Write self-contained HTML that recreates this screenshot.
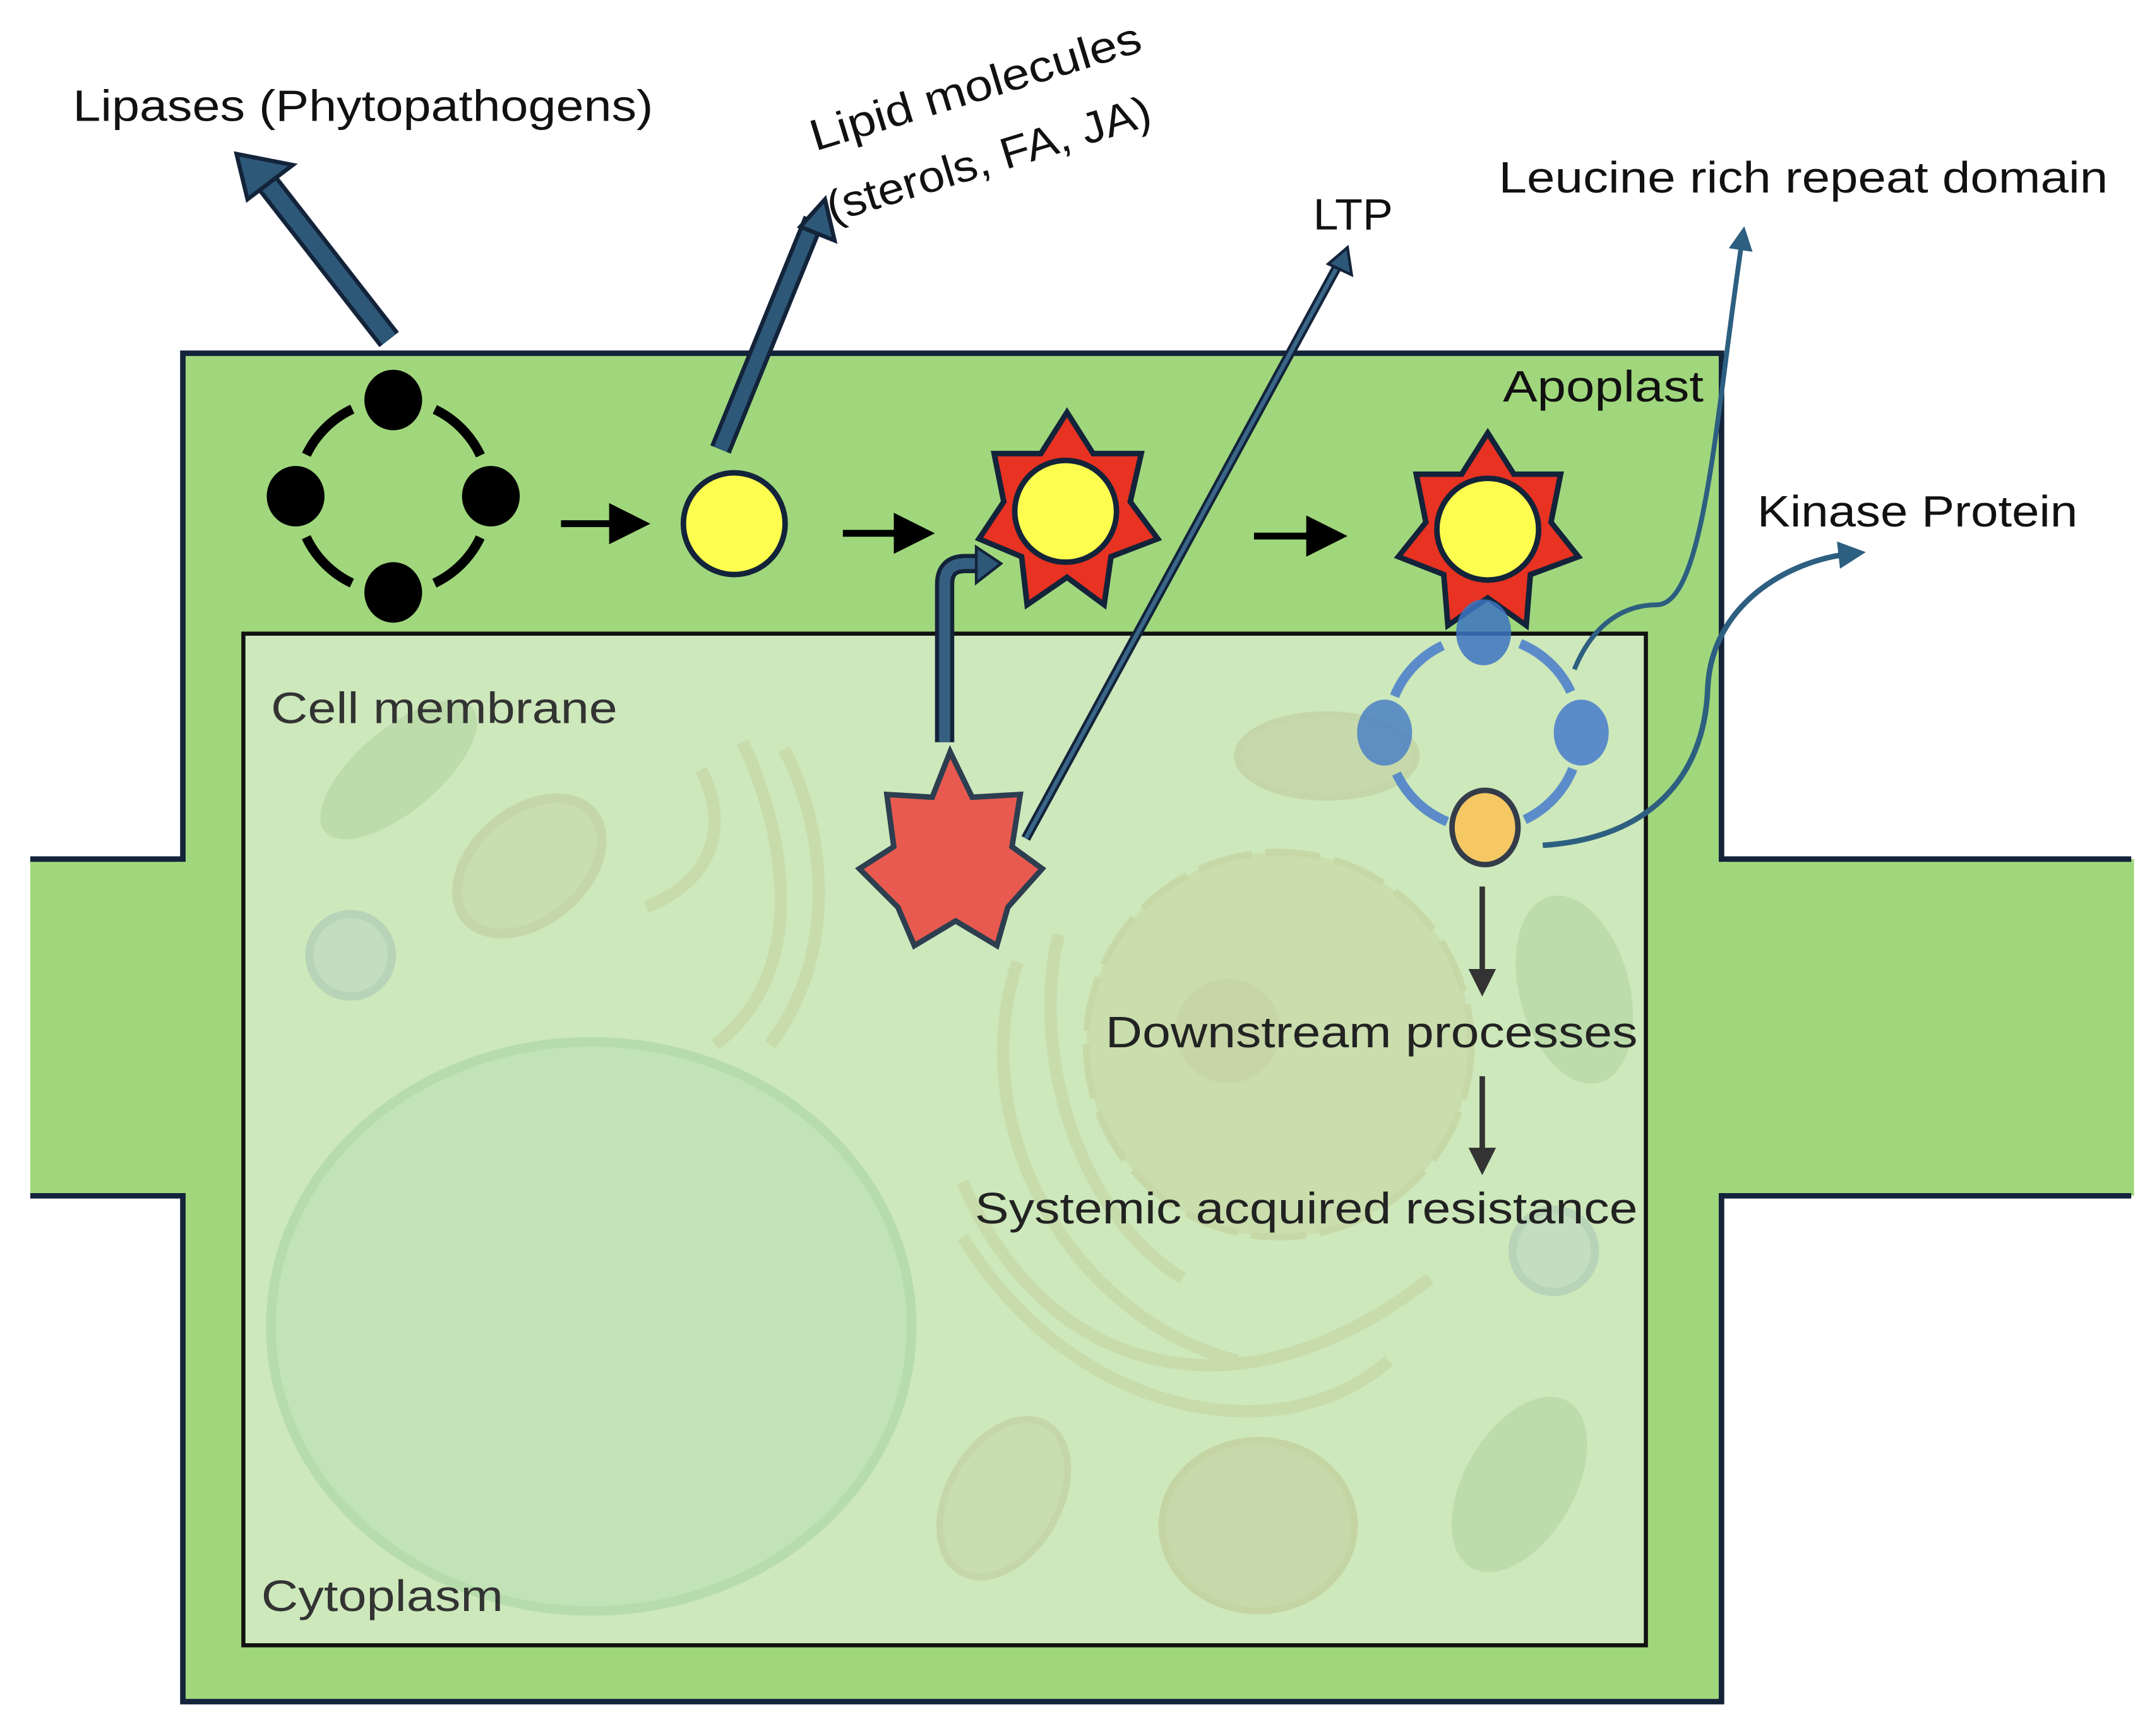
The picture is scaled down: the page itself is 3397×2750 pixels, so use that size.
<!DOCTYPE html>
<html><head><meta charset="utf-8"><style>
html,body{margin:0;padding:0;background:#fff}
svg{display:block}
text{font-family:"Liberation Sans",sans-serif;font-size:32px;fill:#111}
</style></head><body>
<svg width="3397" height="2750" viewBox="0 0 1560 1263" preserveAspectRatio="none" xmlns="http://www.w3.org/2000/svg">
<defs>
<marker id="bk" markerWidth="6" markerHeight="6" refX="3" refY="3" orient="auto" markerUnits="strokeWidth"><path d="M0,0 L6,3 L0,6 Z" fill="#000"/></marker>
<marker id="dg" markerWidth="5" markerHeight="5" refX="2.5" refY="2.5" orient="auto" markerUnits="strokeWidth"><path d="M0,0 L5,2.5 L0,5 Z" fill="#333"/></marker>
<marker id="bl" markerWidth="5" markerHeight="5" refX="2" refY="2.5" orient="auto" markerUnits="strokeWidth"><path d="M0,0 L5,2.5 L0,5 Z" fill="#2d5f80"/></marker>
</defs>
<rect x="22" y="625" width="1530" height="245" fill="#a0d77c"/>
<line x1="22" y1="625" x2="135" y2="625" stroke="#13233a" stroke-width="4"/>
<line x1="22" y1="870" x2="135" y2="870" stroke="#13233a" stroke-width="4"/>
<line x1="1250" y1="625" x2="1550" y2="625" stroke="#13233a" stroke-width="4"/>
<line x1="1250" y1="870" x2="1550" y2="870" stroke="#13233a" stroke-width="4"/>
<rect x="133" y="257" width="1119" height="981" fill="#a0d77c" stroke="#13233a" stroke-width="4"/>
<rect x="129" y="627" width="10" height="241" fill="#a0d77c"/>
<rect x="1246" y="627" width="10" height="241" fill="#a0d77c"/>
<rect x="177" y="461" width="1020" height="736" fill="#cde8bb" stroke="#111" stroke-width="3"/>
<ellipse cx="430" cy="965" rx="233" ry="207" fill="#c2e3b8" stroke="#b7dcab" stroke-width="7"/>
<circle cx="930" cy="760" r="140" fill="#c9dbaa" stroke="#c6d5a3" stroke-width="5" stroke-dasharray="40 10" opacity="0.8"/>
<circle cx="893" cy="750" r="38" fill="#c4d3a3" opacity="0.7"/>
<g fill="none" stroke="#c7d8a8" stroke-width="9" opacity="0.8">
<path d="M700,860 C760,1000 900,1040 1040,930"/><path d="M700,900 C780,1030 930,1060 1010,990"/>
<path d="M740,700 C700,820 780,960 900,990"/><path d="M770,680 C750,760 780,880 860,930"/>
<path d="M520,760 C600,700 560,580 540,540"/><path d="M560,760 C620,680 590,580 570,545"/>
<path d="M470,660 C520,640 530,600 510,560"/>
</g>
<ellipse cx="385" cy="630" rx="60" ry="40" transform="rotate(-40 385 630)" fill="#c8ddb0" stroke="#c5d6a8" stroke-width="7"/>
<ellipse cx="290" cy="560" rx="70" ry="30" transform="rotate(-40 290 560)" fill="#bcdcab"/>
<ellipse cx="965" cy="550" rx="65" ry="30" fill="#c6d9ab" stroke="#c5d6a8" stroke-width="5"/>
<ellipse cx="1145" cy="720" rx="40" ry="70" transform="rotate(-15 1145 720)" fill="#bcdcab"/>
<ellipse cx="1105" cy="1080" rx="40" ry="70" transform="rotate(30 1105 1080)" fill="#bcdcab"/>
<ellipse cx="730" cy="1090" rx="40" ry="62" transform="rotate(30 730 1090)" fill="#c8ddb0" stroke="#c5d6a8" stroke-width="5"/>
<ellipse cx="915" cy="1110" rx="70" ry="62" fill="#c6d9ab" stroke="#c5d4a3" stroke-width="5"/>
<circle cx="255" cy="695" r="30" fill="#c3ddbf" stroke="#b8d4b8" stroke-width="6"/>
<circle cx="1130" cy="910" r="30" fill="#c3ddbf" stroke="#b8d4b8" stroke-width="6"/>
<circle cx="286" cy="361" r="70" fill="none" stroke="#000" stroke-width="7" stroke-dasharray="48 62" stroke-dashoffset="-31"/>
<ellipse cx="286" cy="291" rx="21" ry="22"/><ellipse cx="286" cy="431" rx="21" ry="22"/>
<ellipse cx="215" cy="361" rx="21" ry="22"/><ellipse cx="357" cy="361" rx="21" ry="22"/>
<line x1="408" y1="381" x2="458" y2="381" stroke="#000" stroke-width="5" marker-end="url(#bk)"/>
<line x1="613" y1="388" x2="665" y2="388" stroke="#000" stroke-width="5" marker-end="url(#bk)"/>
<line x1="912" y1="390" x2="965" y2="390" stroke="#000" stroke-width="5" marker-end="url(#bk)"/>
<ellipse cx="534" cy="381" rx="37" ry="37" fill="#fdfd4f" stroke="#13233a" stroke-width="4"/>
<polygon points="776,300 795,330 830,330 822,365 842,392 808,405 803,440 776,420 747,440 743,405 712,392 730,365 723,330 757,330" fill="#e83222" stroke="#13233a" stroke-width="4"/>
<ellipse cx="775" cy="372" rx="37" ry="37" fill="#fdfd4f" stroke="#13233a" stroke-width="4"/>
<polygon points="1082,315 1101,345 1135,345 1128,380 1148,405 1113,418 1110,455 1082,435 1053,455 1050,418 1017,405 1037,380 1030,345 1063,345" fill="#e83222" stroke="#13233a" stroke-width="4"/>
<ellipse cx="1082" cy="385" rx="37" ry="37" fill="#fdfd4f" stroke="#13233a" stroke-width="4"/>
<polygon points="691,547 707,580 742,578 736,616 758,632 733,660 725,688 695,670 665,688 653,660 625,632 650,616 645,578 678,580" fill="#e85a4f" stroke="#2c3e50" stroke-width="4"/>
<circle cx="1079" cy="533" r="70" fill="none" stroke="#5b8cc9" stroke-width="7" stroke-dasharray="52 58" stroke-dashoffset="-27"/>
<ellipse cx="1079" cy="460" rx="20" ry="24" fill="#3d74c2" opacity="0.85"/>
<ellipse cx="1007" cy="533" rx="20" ry="24" fill="#4b80c6" opacity="0.85"/>
<ellipse cx="1150" cy="533" rx="20" ry="24" fill="#5b8cc9"/>
<ellipse cx="1080" cy="602" rx="24" ry="27" fill="#f6c864" stroke="#333c48" stroke-width="4"/>
<line x1="283" y1="247" x2="188" y2="125" stroke="#13233a" stroke-width="18"/>
<line x1="283" y1="247" x2="188" y2="125" stroke="#2d5878" stroke-width="12"/>
<polygon points="172,112 213,120 180,145" fill="#2d5878" stroke="#13233a" stroke-width="3"/>
<line x1="524" y1="327" x2="592" y2="160" stroke="#13233a" stroke-width="16"/>
<line x1="524" y1="327" x2="592" y2="160" stroke="#2d5878" stroke-width="10"/>
<polygon points="600,145 607,175 582,165" fill="#2d5878" stroke="#13233a" stroke-width="3"/>
<line x1="746" y1="610" x2="972" y2="195" stroke="#13233a" stroke-width="7"/>
<line x1="746" y1="610" x2="972" y2="195" stroke="#3a6688" stroke-width="3"/>
<polygon points="980,180 983,200 966,192" fill="#2d5878" stroke="#13233a" stroke-width="2"/>
<path d="M687,540 L687,425 Q687,410 702,410 L712,410" fill="none" stroke="#13233a" stroke-width="14"/>
<path d="M687,540 L687,425 Q687,410 702,410 L712,410" fill="none" stroke="#3a6688" stroke-width="8" opacity="0.9"/>
<polygon points="728,410 710,398 710,424" fill="#2d5878" stroke="#13233a" stroke-width="2"/>
<path d="M1145,487 C1160,450 1185,440 1205,440 C1240,440 1248,300 1267,175" fill="none" stroke="#2d5f80" stroke-width="3.5" marker-end="url(#bl)"/>
<path d="M1122,615 C1200,610 1240,565 1242,500 C1245,440 1300,408 1345,403" fill="none" stroke="#2d5f80" stroke-width="4" marker-end="url(#bl)"/>
<line x1="1078" y1="645" x2="1078" y2="715" stroke="#333" stroke-width="4" marker-end="url(#dg)"/>
<line x1="1078" y1="783" x2="1078" y2="845" stroke="#333" stroke-width="4" marker-end="url(#dg)"/>
<g style="font-size:32px">
<text x="53" y="88" textLength="422" lengthAdjust="spacingAndGlyphs">Lipases (Phytopathogens)</text>
<text x="593" y="110" transform="rotate(-17 593 110)" textLength="250" lengthAdjust="spacingAndGlyphs">Lipid molecules</text>
<text x="605" y="162" transform="rotate(-17 605 162)" textLength="245" lengthAdjust="spacingAndGlyphs">(sterols, FA, JA)</text>
<text x="955" y="167" textLength="58" lengthAdjust="spacingAndGlyphs">LTP</text>
<text x="1090" y="140" textLength="443" lengthAdjust="spacingAndGlyphs">Leucine rich repeat domain</text>
<text x="1093" y="292" textLength="146" lengthAdjust="spacingAndGlyphs">Apoplast</text>
<text x="1278" y="383" textLength="233" lengthAdjust="spacingAndGlyphs">Kinase Protein</text>
<text x="197" y="526" textLength="252" lengthAdjust="spacingAndGlyphs" style="fill:#333">Cell membrane</text>
<text x="804" y="762" textLength="387" lengthAdjust="spacingAndGlyphs" style="fill:#222">Downstream processes</text>
<text x="709" y="890" textLength="482" lengthAdjust="spacingAndGlyphs" style="fill:#222">Systemic acquired resistance</text>
<text x="190" y="1172" textLength="176" lengthAdjust="spacingAndGlyphs" style="fill:#333">Cytoplasm</text>
</g>
</svg>
</body></html>
